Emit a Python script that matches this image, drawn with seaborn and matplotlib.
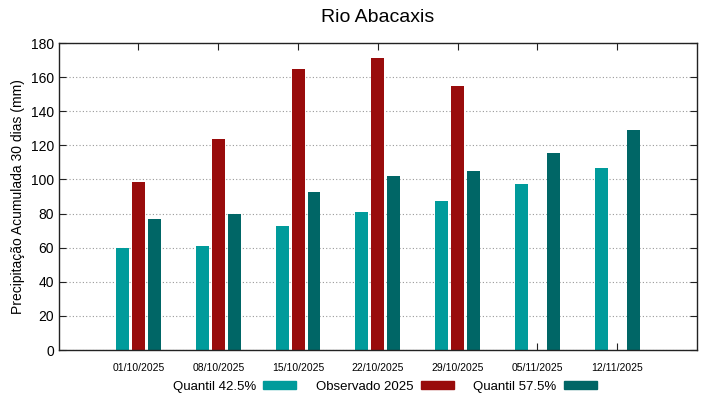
import pandas as pd
import numpy as np
import matplotlib
matplotlib.use('Agg')
import matplotlib.pyplot as plt
from matplotlib.patches import Patch
import seaborn as sns

# data
datas = ['01/10/2025', '08/10/2025', '15/10/2025', '22/10/2025',
         '29/10/2025', '05/11/2025', '12/11/2025']
quantil_425 = [60, 61, 72.5, 81, 87.5, 97.5, 107]
observado_2025 = [98.5, 124, 165, 171.5, 155, np.nan, np.nan]
quantil_575 = [77, 80, 92.5, 102, 105, 115.5, 129]

series = ['Quantil 42.5%', 'Observado 2025', 'Quantil 57.5%']
cores = ['#009b9b', '#990c0c', '#006666']

df = pd.DataFrame({
    'data': datas * 3,
    'valor': quantil_425 + observado_2025 + quantil_575,
    'serie': [s for s in series for _ in datas],
})

sns.set_style('white')
plt.rcParams['font.family'] = ['Liberation Sans', 'DejaVu Sans']
plt.rcParams['text.color'] = 'black'
plt.rcParams['axes.labelcolor'] = 'black'
plt.rcParams['xtick.color'] = 'black'
plt.rcParams['ytick.color'] = 'black'

fig = plt.figure(figsize=(7.19, 3.99), dpi=100)
ax = fig.add_axes([0.0816, 0.1228, 0.8878, 0.7694])

sns.barplot(data=df, x='data', y='valor', hue='serie', hue_order=series,
            palette=cores, saturation=1, width=0.6, gap=0.19, linewidth=0,
            ax=ax, legend=False, errorbar=None)

ax.set_xlim(-1, 7)
ax.set_ylim(0, 180)
ax.set_yticks(np.arange(0, 181, 20))
ax.yaxis.grid(True, linestyle=(0, (1, 2)), color='#999999', linewidth=0.8)
ax.set_axisbelow(True)
for s in ax.spines.values():
    s.set_color('#222222')
    s.set_linewidth(1)

ax.tick_params(axis='y', direction='in', length=5, labelsize=10, right=True,
               left=True, color='#222222')
ax.tick_params(axis='x', direction='in', length=5, labelsize=7.5, top=True,
               bottom=True, pad=9, color='#222222')
ax.set_xlabel('')
ax.set_ylabel('Precipitação Acumulada 30 dias (mm)', fontsize=10)
ax.set_title('Rio Abacaxis', fontsize=14, pad=15)

handles = [Patch(facecolor=c, edgecolor=c) for c in cores]
fig.legend(handles, series, loc='center', bbox_to_anchor=(0.535, 0.03),
           ncol=3, frameon=False, markerfirst=False, fontsize=9.5,
           handlelength=2.5, handleheight=0.55, columnspacing=1.5,
           handletextpad=0.55)

fig.savefig('out.png', dpi=100)
